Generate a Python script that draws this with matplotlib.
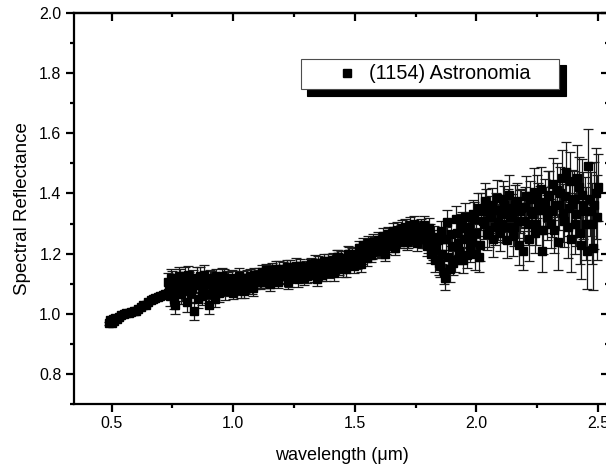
import matplotlib
matplotlib.use("Agg")
import matplotlib.pyplot as plt
from matplotlib.ticker import MultipleLocator

plt.rcParams['font.family'] = ['Liberation Sans', 'DejaVu Sans']

# visible part of the spectrum (smooth)
wl_vis = [0.49, 0.495, 0.50, 0.505, 0.51, 0.515, 0.52, 0.53, 0.54, 0.55,
          0.56, 0.57, 0.58, 0.59, 0.60, 0.61, 0.62, 0.63, 0.64, 0.65,
          0.66, 0.67, 0.68, 0.69, 0.70, 0.71, 0.72, 0.73, 0.74, 0.75,
          0.76, 0.77, 0.78, 0.79, 0.80, 0.81, 0.82, 0.83, 0.84, 0.85,
          0.86, 0.87, 0.88, 0.89, 0.90, 0.91, 0.92]
refl_vis = [0.968, 0.978, 0.970, 0.982, 0.975, 0.985, 0.983, 0.988, 0.995, 1.000,
            1.002, 1.003, 1.005, 1.008, 1.010, 1.015, 1.022, 1.028, 1.030, 1.038,
            1.045, 1.048, 1.052, 1.055, 1.058, 1.062, 1.065, 1.068, 1.072, 1.075,
            1.078, 1.082, 1.085, 1.088, 1.090, 1.092, 1.094, 1.096, 1.098, 1.100,
            1.101, 1.102, 1.103, 1.104, 1.105, 1.106, 1.107]
err_vis = [0.004, 0.004, 0.004, 0.004, 0.004, 0.004, 0.004, 0.004, 0.004, 0.004,
           0.004, 0.004, 0.004, 0.004, 0.004, 0.004, 0.004, 0.004, 0.004, 0.004,
           0.005, 0.005, 0.005, 0.005, 0.005, 0.005, 0.005, 0.006, 0.006, 0.006,
           0.006, 0.006, 0.006, 0.006, 0.006, 0.006, 0.006, 0.006, 0.006, 0.006,
           0.006, 0.006, 0.006, 0.006, 0.006, 0.006, 0.006]

# near-infrared part (noisier), integer grid
wl_nir_a = [0.73, 0.74, 0.75, 0.76, 0.77, 0.78, 0.79,
            0.80, 0.81, 0.82, 0.83, 0.84, 0.85, 0.86, 0.87, 0.88, 0.89,
            0.90, 0.91, 0.92, 0.93, 0.94, 0.95, 0.96, 0.97, 0.98, 0.99,
            1.00, 1.01, 1.02, 1.03, 1.04, 1.05, 1.06, 1.07, 1.08, 1.09,
            1.10, 1.11, 1.12, 1.13, 1.14, 1.15, 1.16, 1.17, 1.18, 1.19,
            1.20, 1.21, 1.22, 1.23, 1.24, 1.25, 1.26, 1.27, 1.28, 1.29,
            1.30, 1.31, 1.32, 1.33, 1.34, 1.35, 1.36, 1.37, 1.38, 1.39,
            1.40, 1.41, 1.42, 1.43, 1.44, 1.45, 1.46, 1.47, 1.48, 1.49,
            1.50, 1.51, 1.52, 1.53, 1.54, 1.55, 1.56, 1.57, 1.58, 1.59,
            1.60, 1.61, 1.62, 1.63, 1.64, 1.65, 1.66, 1.67, 1.68, 1.69,
            1.70, 1.71, 1.72, 1.73, 1.74, 1.75, 1.76, 1.77, 1.78, 1.79,
            1.80, 1.81, 1.82, 1.83, 1.84, 1.85, 1.86, 1.87, 1.88, 1.89,
            1.90, 1.91, 1.92, 1.93, 1.94, 1.95, 1.96, 1.97, 1.98, 1.99,
            2.00, 2.01, 2.02, 2.03, 2.04, 2.05, 2.06, 2.07, 2.08, 2.09,
            2.10, 2.11, 2.12, 2.13, 2.14, 2.15, 2.16, 2.17, 2.18, 2.19,
            2.20, 2.21, 2.22, 2.23, 2.24, 2.25, 2.26, 2.27, 2.28, 2.29,
            2.30, 2.31, 2.32, 2.33, 2.34, 2.35, 2.36, 2.37, 2.38, 2.39,
            2.40, 2.41, 2.42, 2.43, 2.44, 2.45, 2.46, 2.47, 2.48, 2.49,
            2.50]
refl_nir_a = [1.105, 1.060, 1.115, 1.030, 1.095, 1.120, 1.075,
              1.125, 1.040, 1.110, 1.085, 1.010, 1.120, 1.095, 1.060, 1.130, 1.100,
              1.030, 1.115, 1.090, 1.125, 1.070, 1.105, 1.120, 1.085, 1.110, 1.095,
              1.070, 1.115, 1.100, 1.080, 1.120, 1.095, 1.110, 1.125, 1.085, 1.105,
              1.125, 1.105, 1.140, 1.110, 1.130, 1.100, 1.145, 1.120, 1.135, 1.150,
              1.125, 1.140, 1.155, 1.115, 1.145, 1.130, 1.160, 1.135, 1.150, 1.120,
              1.155, 1.140, 1.165, 1.130, 1.150, 1.170, 1.145, 1.160, 1.135, 1.175,
              1.155, 1.180, 1.160, 1.190, 1.170, 1.150, 1.185, 1.200, 1.175, 1.195,
              1.200, 1.175, 1.210, 1.190, 1.215, 1.185, 1.220, 1.205, 1.230, 1.210,
              1.235, 1.215, 1.245, 1.225, 1.255, 1.240, 1.230, 1.260, 1.250, 1.270,
              1.255, 1.275, 1.245, 1.280, 1.265, 1.285, 1.260, 1.290, 1.270, 1.250,
              1.235, 1.265, 1.210, 1.180, 1.245, 1.160, 1.200, 1.120, 1.305, 1.150,
              1.225, 1.180, 1.270, 1.210, 1.300, 1.250, 1.195, 1.290, 1.240, 1.315,
              1.270, 1.190, 1.340, 1.300, 1.360, 1.280, 1.320, 1.250, 1.345, 1.305,
              1.330, 1.380, 1.290, 1.350, 1.320, 1.260, 1.365, 1.310, 1.340, 1.210,
              1.355, 1.300, 1.380, 1.330, 1.270, 1.390, 1.345, 1.210, 1.370, 1.320,
              1.395, 1.340, 1.280, 1.410, 1.360, 1.450, 1.310, 1.470, 1.350, 1.250,
              1.380, 1.330, 1.420, 1.230, 1.360, 1.300, 1.490, 1.340, 1.220, 1.400,
              1.420]
err_nir_a = [0.030, 0.035, 0.028, 0.030, 0.032, 0.030, 0.034,
             0.030, 0.035, 0.028, 0.032, 0.030, 0.034, 0.026, 0.030, 0.032, 0.028,
             0.030, 0.026, 0.030, 0.024, 0.032, 0.028, 0.030, 0.025, 0.028, 0.030,
             0.022, 0.026, 0.024, 0.028, 0.022, 0.025, 0.020, 0.024, 0.026, 0.022,
             0.020, 0.024, 0.022, 0.026, 0.020, 0.023, 0.025, 0.020, 0.022, 0.024,
             0.022, 0.020, 0.024, 0.026, 0.021, 0.023, 0.025, 0.020, 0.022, 0.024,
             0.022, 0.025, 0.020, 0.024, 0.026, 0.022, 0.024, 0.021, 0.025, 0.023,
             0.024, 0.022, 0.026, 0.023, 0.025, 0.028, 0.022, 0.024, 0.026, 0.023,
             0.022, 0.025, 0.023, 0.026, 0.022, 0.025, 0.024, 0.022, 0.026, 0.024,
             0.023, 0.025, 0.022, 0.026, 0.024, 0.022, 0.025, 0.023, 0.026, 0.024,
             0.025, 0.023, 0.028, 0.024, 0.026, 0.025, 0.030, 0.026, 0.028, 0.030,
             0.032, 0.035, 0.030, 0.040, 0.034, 0.038, 0.036, 0.042, 0.040, 0.045,
             0.038, 0.042, 0.040, 0.045, 0.038, 0.050, 0.042, 0.048, 0.045, 0.055,
             0.048, 0.052, 0.060, 0.050, 0.055, 0.058, 0.050, 0.062, 0.055, 0.060,
             0.058, 0.062, 0.055, 0.065, 0.060, 0.068, 0.062, 0.058, 0.070, 0.065,
             0.065, 0.070, 0.062, 0.075, 0.068, 0.072, 0.080, 0.070, 0.078, 0.075,
             0.080, 0.085, 0.078, 0.090, 0.082, 0.095, 0.088, 0.100, 0.090, 0.110,
             0.095, 0.105, 0.100, 0.115, 0.110, 0.120, 0.125, 0.130, 0.140, 0.150,
             0.110]

# near-infrared part, half-step grid
wl_nir_b = [0.735, 0.745, 0.755, 0.765, 0.775, 0.785, 0.795,
            0.805, 0.815, 0.825, 0.835, 0.845, 0.855, 0.865, 0.875, 0.885, 0.895,
            0.905, 0.915, 0.925, 0.935, 0.945, 0.955, 0.965, 0.975, 0.985, 0.995,
            1.005, 1.015, 1.025, 1.035, 1.045, 1.055, 1.065, 1.075, 1.085, 1.095,
            1.105, 1.115, 1.125, 1.135, 1.145, 1.155, 1.165, 1.175, 1.185, 1.195,
            1.205, 1.215, 1.225, 1.235, 1.245, 1.255, 1.265, 1.275, 1.285, 1.295,
            1.305, 1.315, 1.325, 1.335, 1.345, 1.355, 1.365, 1.375, 1.385, 1.395,
            1.405, 1.415, 1.425, 1.435, 1.445, 1.455, 1.465, 1.475, 1.485, 1.495,
            1.505, 1.515, 1.525, 1.535, 1.545, 1.555, 1.565, 1.575, 1.585, 1.595,
            1.605, 1.615, 1.625, 1.635, 1.645, 1.655, 1.665, 1.675, 1.685, 1.695,
            1.705, 1.715, 1.725, 1.735, 1.745, 1.755, 1.765, 1.775, 1.785, 1.795,
            1.805, 1.815, 1.825, 1.835, 1.845, 1.855, 1.865, 1.875, 1.885, 1.895,
            1.905, 1.915, 1.925, 1.935, 1.945, 1.955, 1.965, 1.975, 1.985, 1.995,
            2.005, 2.015, 2.025, 2.035, 2.045, 2.055, 2.065, 2.075, 2.085, 2.095,
            2.105, 2.115, 2.125, 2.135, 2.145, 2.155, 2.165, 2.175, 2.185, 2.195,
            2.205, 2.215, 2.225, 2.235, 2.245, 2.255, 2.265, 2.275, 2.285, 2.295,
            2.305, 2.315, 2.325, 2.335, 2.345, 2.355, 2.365, 2.375, 2.385, 2.395,
            2.405, 2.415, 2.425, 2.435, 2.445, 2.455, 2.465, 2.475, 2.485, 2.495]
refl_nir_b = [1.085, 1.120, 1.050, 1.105, 1.125, 1.065, 1.110,
              1.095, 1.130, 1.070, 1.115, 1.100, 1.050, 1.125, 1.080, 1.115, 1.065,
              1.120, 1.080, 1.050, 1.110, 1.095, 1.125, 1.075, 1.115, 1.100, 1.120,
              1.105, 1.085, 1.125, 1.110, 1.075, 1.120, 1.100, 1.090, 1.130, 1.115,
              1.130, 1.105, 1.120, 1.145, 1.110, 1.140, 1.120, 1.150, 1.105, 1.135,
              1.150, 1.125, 1.105, 1.155, 1.130, 1.145, 1.115, 1.160, 1.130, 1.150,
              1.125, 1.160, 1.140, 1.170, 1.115, 1.150, 1.130, 1.175, 1.155, 1.140,
              1.175, 1.135, 1.190, 1.155, 1.185, 1.170, 1.150, 1.200, 1.180, 1.160,
              1.185, 1.220, 1.165, 1.230, 1.200, 1.235, 1.195, 1.240, 1.215, 1.245,
              1.210, 1.260, 1.200, 1.265, 1.235, 1.275, 1.220, 1.280, 1.240, 1.285,
              1.290, 1.240, 1.295, 1.255, 1.300, 1.235, 1.280, 1.250, 1.295, 1.225,
              1.285, 1.200, 1.255, 1.225, 1.170, 1.275, 1.140, 1.250, 1.190, 1.265,
              1.170, 1.315, 1.235, 1.285, 1.180, 1.320, 1.265, 1.225, 1.330, 1.200,
              1.350, 1.230, 1.310, 1.375, 1.265, 1.330, 1.360, 1.290, 1.385, 1.270,
              1.300, 1.360, 1.245, 1.395, 1.335, 1.290, 1.375, 1.230, 1.350, 1.310,
              1.390, 1.250, 1.340, 1.405, 1.300, 1.360, 1.415, 1.280, 1.345, 1.390,
              1.300, 1.430, 1.360, 1.240, 1.400, 1.335, 1.390, 1.290, 1.440, 1.365,
              1.300, 1.450, 1.270, 1.395, 1.340, 1.210, 1.380, 1.300, 1.360, 1.320]
err_nir_b = [0.032, 0.030, 0.034, 0.028, 0.030, 0.033, 0.029,
             0.031, 0.028, 0.033, 0.030, 0.027, 0.032, 0.029, 0.031, 0.028, 0.030,
             0.027, 0.031, 0.029, 0.026, 0.030, 0.027, 0.029, 0.026, 0.028, 0.024,
             0.025, 0.023, 0.027, 0.021, 0.024, 0.026, 0.022, 0.025, 0.023, 0.021,
             0.023, 0.021, 0.025, 0.022, 0.024, 0.021, 0.023, 0.026, 0.021, 0.023,
             0.021, 0.025, 0.022, 0.024, 0.020, 0.023, 0.026, 0.022, 0.024, 0.021,
             0.024, 0.021, 0.023, 0.025, 0.022, 0.024, 0.020, 0.023, 0.025, 0.022,
             0.023, 0.026, 0.022, 0.025, 0.024, 0.022, 0.027, 0.023, 0.025, 0.024,
             0.024, 0.022, 0.025, 0.023, 0.026, 0.024, 0.022, 0.025, 0.023, 0.026,
             0.024, 0.026, 0.023, 0.025, 0.022, 0.026, 0.024, 0.025, 0.023, 0.027,
             0.024, 0.027, 0.025, 0.029, 0.026, 0.028, 0.027, 0.031, 0.029, 0.033,
             0.034, 0.032, 0.038, 0.036, 0.041, 0.035, 0.040, 0.038, 0.044, 0.041,
             0.040, 0.044, 0.041, 0.047, 0.043, 0.049, 0.046, 0.052, 0.048, 0.053,
             0.050, 0.056, 0.053, 0.059, 0.054, 0.061, 0.057, 0.060, 0.058, 0.063,
             0.060, 0.064, 0.059, 0.067, 0.063, 0.066, 0.061, 0.069, 0.064, 0.068,
             0.068, 0.073, 0.066, 0.078, 0.071, 0.076, 0.074, 0.082, 0.077, 0.085,
             0.083, 0.088, 0.081, 0.093, 0.087, 0.098, 0.092, 0.105, 0.097, 0.112,
             0.100, 0.110, 0.104, 0.118, 0.115, 0.128, 0.122, 0.135, 0.145, 0.140]

wl = wl_vis + wl_nir_a + wl_nir_b
refl = refl_vis + refl_nir_a + refl_nir_b
err = err_vis + err_nir_a + err_nir_b

fig = plt.figure(figsize=(6.06, 4.68), dpi=100)
ax = fig.add_axes([0.1221, 0.1368, 0.8828, 0.8355])

ax.errorbar(wl, refl, yerr=err, fmt='none', ecolor='0.1', elinewidth=0.9,
            capsize=3.6, capthick=0.9, zorder=2)
ax.plot(wl, refl, 's', color='black', markersize=6.4, label='(1154) Astronomia',
        zorder=3)

ax.set_xlim(0.345, 2.545)
ax.set_ylim(0.7, 2.0)
ax.xaxis.set_major_locator(MultipleLocator(0.5))
ax.xaxis.set_minor_locator(MultipleLocator(0.25))
ax.yaxis.set_major_locator(MultipleLocator(0.2))
ax.yaxis.set_minor_locator(MultipleLocator(0.1))

for s in ax.spines.values():
    s.set_linewidth(1.6)
ax.tick_params(which='major', direction='out', length=6, width=1.6,
               labelsize=11.5, pad=3)
ax.tick_params(which='minor', direction='out', length=3, width=1.6)

# inward ticks on top and right
top = ax.secondary_xaxis('top')
top.xaxis.set_major_locator(MultipleLocator(0.5))
top.xaxis.set_minor_locator(MultipleLocator(0.25))
top.tick_params(which='major', direction='in', length=6, width=1.6, labeltop=False)
top.tick_params(which='minor', direction='in', length=3, width=1.6)
top.spines['top'].set_linewidth(1.6)
right = ax.secondary_yaxis('right')
right.yaxis.set_major_locator(MultipleLocator(0.2))
right.yaxis.set_minor_locator(MultipleLocator(0.1))
right.tick_params(which='major', direction='in', length=6, width=1.6, labelright=False)
right.tick_params(which='minor', direction='in', length=3, width=1.6)
right.spines['right'].set_linewidth(1.6)

ax.set_xlabel('wavelength (μm)', fontsize=13, labelpad=11)
ax.set_ylabel('Spectral Reflectance', fontsize=13.5, labelpad=6)

leg = ax.legend(loc='upper left',
                bbox_to_anchor=(300.5 / 606, 1 - 58.5 / 468, 258.5 / 606, 0),
                bbox_transform=fig.transFigure, borderaxespad=0, mode='expand',
                fontsize=14.3, frameon=True, fancybox=False, numpoints=1,
                handlelength=4.12, handletextpad=-0.95, borderpad=0.3,
                shadow={'ox': 5, 'oy': -5, 'color': 'black', 'alpha': 1})
leg.get_frame().set_edgecolor('0.3')
leg.get_frame().set_linewidth(0.8)

fig.savefig('out.png', dpi=100)
